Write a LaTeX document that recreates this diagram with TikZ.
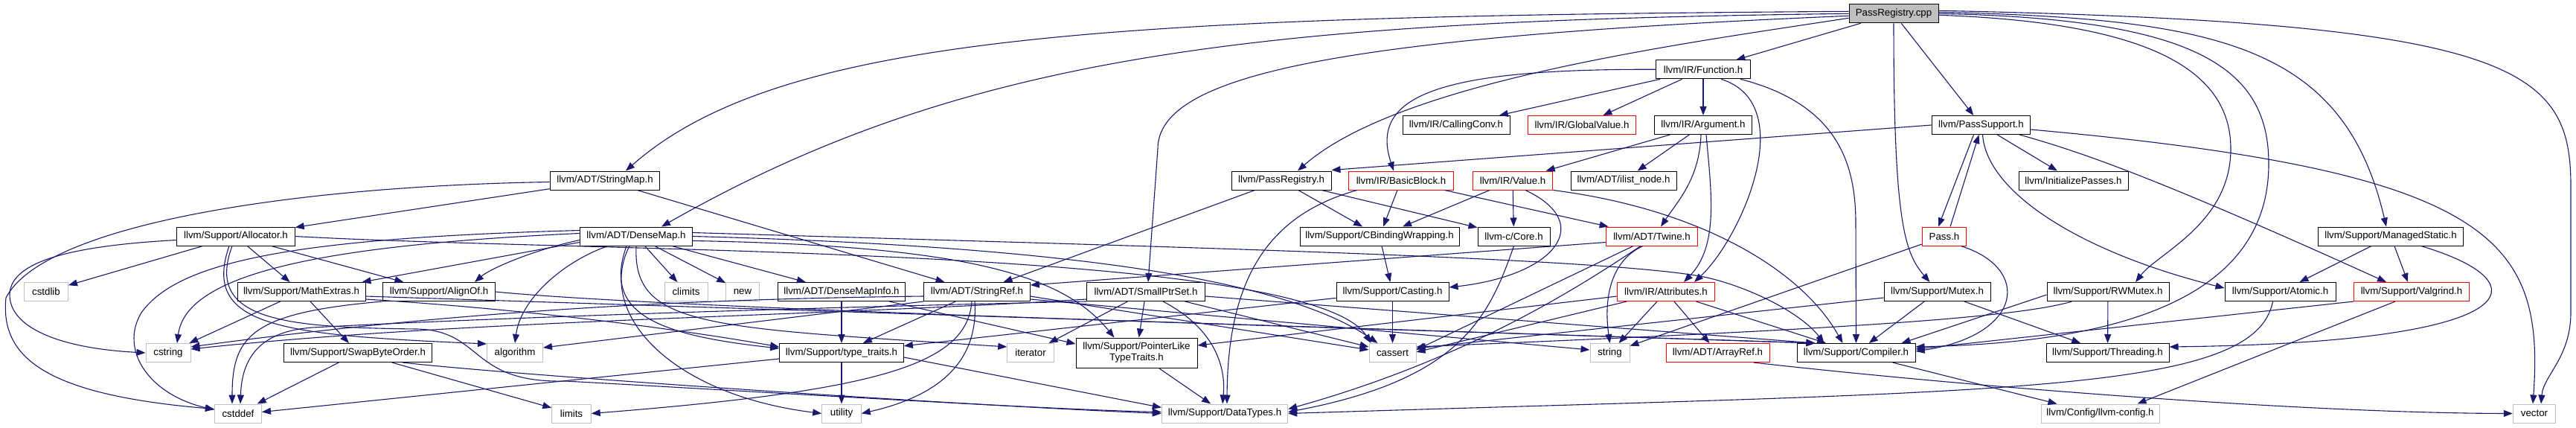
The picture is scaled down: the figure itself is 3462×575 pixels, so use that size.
\documentclass[tikz,border=0pt]{standalone}
\usepackage{fontspec}
\setmainfont{Liberation Sans}
\usetikzlibrary{arrows.meta,calc}
\definecolor{edgeblue}{HTML}{191970}
\definecolor{sysgray}{HTML}{BFBFBF}
\definecolor{truncred}{HTML}{FF0000}
\newcommand{\dgfont}{\fontsize{13.3pt}{15pt}\selectfont}
\begin{document}
\begin{tikzpicture}[x=1pt,y=-1pt,
  nd/.style={draw=black, line width=1pt, fill=white, minimum height=25pt, inner xsep=3pt, inner ysep=0pt, font=\dgfont, align=center},
  sysnd/.style={nd, draw=sysgray, line width=1pt},
  trnd/.style={nd, draw=truncred, line width=1pt},
  dep/.style={draw=edgeblue, line width=1.1pt, -{Triangle[length=12pt,width=9pt]}}]
\useasboundingbox (0,0) rectangle (3462,575);
% ---------- nodes ----------
\node[nd, fill=sysgray, minimum width=120] (cpp) at (2545,18.3) {PassRegistry.cpp};
\node[nd, minimum width=126.5] (fn) at (2289,93.3) {llvm/IR/Function.h};
\node[nd, minimum width=144] (cc) at (1957,168) {llvm/IR/CallingConv.h};
\node[trnd, minimum width=145] (gv) at (2126,168) {llvm/IR/GlobalValue.h};
\node[nd, minimum width=131.6] (arg) at (2289,168) {llvm/IR/Argument.h};
\node[nd, minimum width=132.3] (ps) at (2662.5,168) {llvm/PassSupport.h};
\node[nd, minimum width=147.6] (sm) at (813,242.5) {llvm/ADT/StringMap.h};
\node[nd, minimum width=134] (prh) at (1722,242.5) {llvm/PassRegistry.h};
\node[trnd, minimum width=141.5] (bb) at (1883,242.5) {llvm/IR/BasicBlock.h};
\node[trnd, minimum width=107.5] (val) at (2033,242.5) {llvm/IR/Value.h};
\node[nd, minimum width=142] (iln) at (2182,242.5) {llvm/ADT/ilist\_node.h};
\node[nd, minimum width=147] (ip) at (2786.5,242.5) {llvm/InitializePasses.h};
\node[nd, minimum width=158.5] (alloc) at (317,317.5) {llvm/Support/Allocator.h};
\node[nd, minimum width=151] (dm) at (855,317.5) {llvm/ADT/DenseMap.h};
\node[nd, minimum width=214] (cbw) at (1854,317.5) {llvm/Support/CBindingWrapping.h};
\node[nd, minimum width=97] (core) at (2034.5,317.5) {llvm-c/Core.h};
\node[trnd, minimum width=122.5] (twine) at (2220,317.5) {llvm/ADT/Twine.h};
\node[trnd, minimum width=59.6] (pass) at (2613,317.5) {Pass.h};
\node[nd, minimum width=194.5] (mst) at (3213,317.5) {llvm/Support/ManagedStatic.h};
\node[sysnd, minimum width=59] (cstdlib) at (62,392) {cstdlib};
\node[nd, minimum width=172] (mex) at (405,392) {llvm/Support/MathExtras.h};
\node[nd, minimum width=151] (aof) at (590,392) {llvm/Support/AlignOf.h};
\node[sysnd, minimum width=58] (climits) at (922,392) {climits};
\node[sysnd, minimum width=44.5] (nnew) at (998,392) {new};
\node[nd, minimum width=171.5] (dmi) at (1131,392) {llvm/ADT/DenseMapInfo.h};
\node[nd, minimum width=142.5] (sref) at (1313,392) {llvm/ADT/StringRef.h};
\node[nd, minimum width=159] (sps) at (1540,392) {llvm/ADT/SmallPtrSet.h};
\node[nd, minimum width=151] (cast) at (1871.5,392) {llvm/Support/Casting.h};
\node[trnd, minimum width=130.4] (attr) at (2239,392) {llvm/IR/Attributes.h};
\node[nd, minimum width=143] (mutex) at (2603.5,392) {llvm/Support/Mutex.h};
\node[nd, minimum width=164] (rwm) at (2833,392) {llvm/Support/RWMutex.h};
\node[nd, minimum width=149] (atom) at (3064.5,392) {llvm/Support/Atomic.h};
\node[trnd, minimum width=154.3] (valg) at (3241,392) {llvm/Support/Valgrind.h};
\node[sysnd, minimum width=60] (cstring) at (226,474) {cstring};
\node[nd, minimum width=199] (sbo) at (481,474) {llvm/Support/SwapByteOrder.h};
\node[sysnd, minimum width=75] (algo) at (692,474) {algorithm};
\node[nd, minimum width=166.7] (tt) at (1131,474) {llvm/Support/type\_traits.h};
\node[sysnd, minimum width=62.4] (iter) at (1385,474) {iterator};
\node[nd, minimum width=163, minimum height=40] (plt) at (1527.5,474) {llvm/Support/PointerLike\\TypeTraits.h};
\node[sysnd, minimum width=63] (cassert) at (1871.5,474) {cassert};
\node[sysnd, minimum width=53] (string) at (2163.5,474) {string};
\node[trnd, minimum width=139] (aref) at (2308.5,474) {llvm/ADT/ArrayRef.h};
\node[nd, minimum width=159] (comp) at (2494.5,474) {llvm/Support/Compiler.h};
\node[nd, minimum width=165] (thr) at (2832.5,474) {llvm/Support/Threading.h};
\node[sysnd, minimum width=63] (cstddef) at (320,555.5) {cstddef};
\node[sysnd, minimum width=52.5] (limits) at (768,555.5) {limits};
\node[sysnd, minimum width=52.6] (utility) at (1131,555.5) {utility};
\node[sysnd, minimum width=169.4] (dt) at (1646,555.5) {llvm/Support/DataTypes.h};
\node[sysnd, minimum width=159] (lcfg) at (2822.5,555.5) {llvm/Config/llvm-config.h};
\node[sysnd, minimum width=57.5] (vector) at (3406,555.5) {vector};
% ---------- PassRegistry.cpp ----------
\draw[dep] (cpp) -- (fn);
\draw[dep] (cpp) -- (ps);
\draw[dep] ($(cpp.west)+(0,-3)$) .. controls (1500,22) and (1050,45) .. ($(sm.north)+(28,0)$);
\draw[dep] (cpp.west) .. controls (1700,28) and (1300,70) .. ($(dm.north)+(34,0)$);
\draw[dep] ($(cpp.west)+(0,3)$) .. controls (1800,50) and (1556,100) .. (1556,200) -- ($(sps.north)+(3,0)$);
\draw[dep] ($(cpp.west)+(0,6)$) .. controls (2250,60) and (1880,110) .. ($(prh.north)+(22,0)$);
\draw[dep] (cpp.south) .. controls (2545,300) and (2560,340) .. ($(mutex.north)+(-10,0)$);
\draw[dep] ($(cpp.east)+(0,2)$) .. controls (2880,30) and (2998,90) .. (2998,200) .. controls (2998,300) and (2900,340) .. ($(rwm.north)+(37,0)$);
\draw[dep] (cpp.east) .. controls (2950,25) and (3049,90) .. (3049,220) .. controls (3049,400) and (2850,460) .. ($(comp.east)+(0,-8)$);
\draw[dep] ($(cpp.east)+(0,-2)$) .. controls (2980,25) and (3150,60) .. ($(mst.north)+(-6,0)$);
\draw[dep] ($(cpp.east)+(0,-4)$) .. controls (3380,30) and (3455,90) .. (3455,250) -- (3455,420) .. controls (3455,480) and (3418,505) .. ($(vector.north)+(9,0)$);
% ---------- Function.h / Argument.h ----------
\draw[dep] (fn) -- (cc);
\draw[dep] (fn) -- (gv);
\draw[dep] (fn) -- (arg);
\draw[dep] (fn.west) .. controls (1930,92) and (1840,130) .. ($(bb.north)+(-10,0)$);
\draw[dep] ($(fn.south)+(24,0)$) .. controls (2420,140) and (2340,320) .. ($(attr.north)+(38,0)$);
\draw[dep] ($(fn.south)+(50,0)$) .. controls (2470,140) and (2494,220) .. (2494,300) -- (comp.north);
\draw[dep] (arg) -- (val);
\draw[dep] (arg) -- (iln);
\draw[dep] ($(arg.south)+(-3,0)$) .. controls (2284,240) and (2255,270) .. ($(twine.north)+(12,0)$);
\draw[dep] ($(arg.south)+(4,0)$) .. controls (2300,260) and (2310,330) .. ($(attr.north)+(24,0)$);
% ---------- PassSupport.h / Pass.h ----------
\draw[dep] (ps.west) -- ($(prh.north east)+(0,-1)$);
\draw[dep] ($(ps.south)+(-10,0)$) -- ($(pass.north)+(-8,0)$);
\draw[dep] ($(pass.north)+(8,0)$) -- ($(ps.south)+(-3,0)$);
\draw[dep] (ps) -- (ip);
\draw[dep] ($(ps.south)+(2,0)$) .. controls (2670,260) and (2800,340) .. ($(atom.west)+(0,-5)$);
\draw[dep] ($(ps.south east)+(-15,0)$) .. controls (2800,205) and (2900,240) .. ($(valg.north)+(-34,0)$);
\draw[dep] ($(ps.east)+(0,6)$) .. controls (3350,230) and (3420,320) .. ($(vector.north)+(-2,0)$);
\draw[dep] (pass) -- (string);
\draw[dep] ($(pass.south east)+(-8,0)$) .. controls (2730,360) and (2720,450) .. ($(comp.east)+(0,-2)$);
% ---------- PassRegistry.h / BasicBlock.h / Value.h ----------
\draw[dep] (prh) -- (sref);
\draw[dep] (prh) -- (cbw);
\draw[dep] (prh) -- (core);
\draw[dep] (bb) -- (cbw);
\draw[dep] (bb) -- (twine);
\draw[dep] ($(bb.south west)+(12,0)$) .. controls (1700,290) and (1650,380) .. ($(dt.north)+(3,0)$);
\draw[dep] (val) -- (core);
\draw[dep] (val) -- (cbw);
\draw[dep] ($(val.south)+(17,0)$) .. controls (2145,300) and (2090,370) .. ($(cast.east)+(0,-6)$);
\draw[dep] (val.south east) .. controls (2280,280) and (2420,360) .. ($(comp.north)+(-18,0)$);
% ---------- Twine.h / Core.h / CBindingWrapping.h / Casting.h ----------
\draw[dep] ($(twine.west)+(0,8)$) -- ($(sref.east)+(0,-9)$);
\draw[dep] ($(twine.south)+(-25,0)$) -- ($(cassert.east)+(0,-4)$);
\draw[dep] ($(twine.south)+(-12,0)$) .. controls (2165,350) and (2155,400) .. (string.north);
\draw[dep] ($(twine.south)+(-15,0)$) .. controls (2130,380) and (1980,480) .. ($(dt.east)+(0,-6)$);
\draw[dep] (core.south) .. controls (2000,430) and (1960,510) .. ($(dt.east)+(0,-2)$);
\draw[dep] (cbw) -- (cast);
\draw[dep] (cast) -- (tt);
\draw[dep] (cast) -- (cassert);
% ---------- Attributes.h / ArrayRef.h ----------
\draw[dep] (attr) -- (string);
\draw[dep] (attr) -- (aref);
\draw[dep] (attr) -- (comp);
\draw[dep] ($(attr.south west)+(13,0)$) -- ($(cassert.east)+(0,-1)$);
\draw[dep] ($(attr.west)+(0,6)$) -- ($(plt.east)+(0,-10)$);
\draw[dep] ($(aref.south east)+(-22,0)$) .. controls (2650,520) and (3100,555) .. (vector.west);
% ---------- Mutex / RWMutex / Atomic / ManagedStatic / Valgrind / Compiler ----------
\draw[dep] (mutex) -- (comp);
\draw[dep] (mutex) -- (thr);
\draw[dep] ($(mutex.west)+(0,8)$) -- ($(cassert.east)+(0,-6)$);
\draw[dep] (rwm) -- (thr);
\draw[dep] ($(rwm.west)+(0,4)$) -- ($(comp.north east)+(-19,0)$);
\draw[dep] ($(rwm.south west)+(34,0)$) .. controls (2700,430) and (2400,445) .. ($(cassert.east)+(0,-8)$);
\draw[dep] ($(atom.south)+(-10,0)$) .. controls (3030,530) and (2700,525) .. (dt.east);
\draw[dep] (mst) -- (atom);
\draw[dep] (mst) -- (valg);
\draw[dep] ($(mst.south east)+(-57,0)$) .. controls (3420,380) and (3400,460) .. ($(thr.east)+(0,-8)$);
\draw[dep] (valg.south west) -- ($(comp.east)+(0,-5)$);
\draw[dep] ($(valg.south)+(-22,0)$) -- ($(lcfg.north)+(50,0)$);
\draw[dep] ($(comp.south east)+(-31,0)$) -- ($(lcfg.north)+(-58,0)$);
% ---------- StringMap.h / Allocator.h ----------
\draw[dep] (sm) -- (sref);
\draw[dep] (sm) -- (alloc);
\draw[dep] ($(sm.west)+(0,2)$) .. controls (400,250) and (60,300) .. (8,400) .. controls (0,480) and (60,530) .. ($(cstddef.west)+(0,-6)$);
\draw[dep] (alloc) -- (cstdlib);
\draw[dep] (alloc) -- (mex);
\draw[dep] (alloc) -- (aof);
\draw[dep] ($(alloc.west)+(0,5)$) .. controls (100,330) and (15,350) .. (13,395) .. controls (12,440) and (80,468) .. (cstring.west);
\draw[dep] ($(alloc.south)+(-9,0)$) .. controls (270,440) and (380,450) .. ($(algo.west)+(0,-12)$);
\draw[dep] ($(alloc.south)+(-5,0)$) .. controls (275,430) and (380,440) .. (560,442) .. controls (650,444) and (630,515) .. (760,512) .. controls (1000,525) and (1400,550) .. ($(dt.west)+(0,-2)$);
\draw[dep] (alloc.east) .. controls (800,340) and (1760,330) .. ($(cassert.north west)+(3,0)$);
% ---------- MathExtras / SwapByteOrder / AlignOf ----------
\draw[dep] (mex) -- (cstring);
\draw[dep] (mex) -- (sbo);
\draw[dep] ($(mex.east)+(0,10)$) .. controls (700,415) and (900,440) .. ($(tt.west)+(0,-8)$);
\draw[dep] ($(mex.east)+(0,6)$) -- ($(comp.north west)+(25,0)$);
\draw[dep] (sbo) -- (cstddef);
\draw[dep] (sbo) -- (limits);
\draw[dep] ($(sbo.south east)+(-40,0)$) .. controls (700,505) and (1300,545) .. (dt.west);
\draw[dep] (aof.south west) .. controls (340,420) and (312,450) .. ($(cstddef.north)+(-8,0)$);
\draw[dep] (aof.east) .. controls (900,415) and (1800,440) .. ($(comp.north west)+(25,0)$);
% ---------- DenseMap.h ----------
\draw[dep] (dm) -- (dmi);
\draw[dep] (dm) -- (climits);
\draw[dep] (dm) -- (nnew);
\draw[dep] ($(dm.west)+(0,5)$) .. controls (720,335) and (660,360) .. ($(aof.north)+(48,0)$);
\draw[dep] ($(dm.west)+(0,8)$) -- ($(mex.north east)+(-5,0)$);
\draw[dep] ($(dm.west)+(0,-4)$) .. controls (420,330) and (250,370) .. ($(cstring.north)+(12,0)$);
\draw[dep] ($(dm.west)+(0,-8)$) .. controls (400,320) and (240,350) .. (190,420) .. controls (160,470) and (200,530) .. ($(cstddef.west)+(0,-5)$);
\draw[dep] ($(dm.south)+(-38,0)$) .. controls (760,350) and (700,400) .. (algo.north);
\draw[dep] ($(dm.south)+(-13,0)$) .. controls (810,420) and (880,450) .. ($(tt.west)+(0,-6)$);
\draw[dep] ($(dm.south)+(-9,0)$) .. controls (800,420) and (900,530) .. (utility.west);
\draw[dep] (dm.south) .. controls (850,440) and (950,440) .. ($(iter.west)+(0,-8)$);
\draw[dep] ($(dm.east)+(0,6)$) .. controls (1300,330) and (1430,370) .. ($(plt.north)+(-30,0)$);
\draw[dep] (dm.east) .. controls (1400,330) and (1720,370) .. ($(cassert.north)+(-20,0)$);
\draw[dep] ($(dm.east)+(0,-5)$) .. controls (1500,330) and (2150,345) .. (2290,372) .. controls (2350,385) and (2420,420) .. ($(comp.north west)+(37,0)$);
% ---------- DenseMapInfo / StringRef / SmallPtrSet ----------
\draw[dep] (dmi) -- (tt);
\draw[dep] ($(dmi.south east)+(-22,0)$) -- ($(plt.west)+(0,-12)$);
\draw[dep] (sref) -- (tt);
\draw[dep] (sref.south west) -- ($(algo.east)+(0,-7)$);
\draw[dep] ($(sref.east)+(0,6)$) -- ($(cassert.west)+(0,-4)$);
\draw[dep] ($(sref.east)+(0,10)$) -- ($(string.west)+(0,-4)$);
\draw[dep] ($(sref.west)+(0,6)$) .. controls (900,402) and (600,420) .. ($(cstring.east)+(0,-8)$);
\draw[dep] ($(sref.south)+(-7,0)$) .. controls (1300,490) and (1180,525) .. (limits.east);
\draw[dep] ($(sref.south)+(-3,0)$) .. controls (1315,480) and (1270,530) .. (utility.east);
\draw[dep] (sps) -- (iter);
\draw[dep] (sps) -- (plt);
\draw[dep] (sps) -- (cassert);
\draw[dep] ($(sps.south)+(23,0)$) .. controls (1630,440) and (1648,490) .. ($(dt.north)+(-3,0)$);
\draw[dep] ($(sps.east)+(0,6)$) -- ($(comp.north west)+(25,0)$);
\draw[dep] ($(sps.south west)+(0,-3)$) .. controls (1100,425) and (620,430) .. ($(cstring.east)+(0,-5)$);
\draw[dep] (sps.south west) .. controls (1000,415) and (600,430) .. (420,440) .. controls (350,445) and (325,480) .. ($(cstddef.north)+(3,0)$);
% ---------- PointerLikeTypeTraits / type_traits ----------
\draw[dep] (plt) -- (dt);
\draw[dep] (tt) -- (utility);
\draw[dep] ($(tt.east)+(0,6)$) -- ($(dt.west)+(0,-8)$);
\draw[dep] ($(tt.west)+(0,8)$) -- ($(cstddef.east)+(0,-2)$);
\end{tikzpicture}
\end{document}
